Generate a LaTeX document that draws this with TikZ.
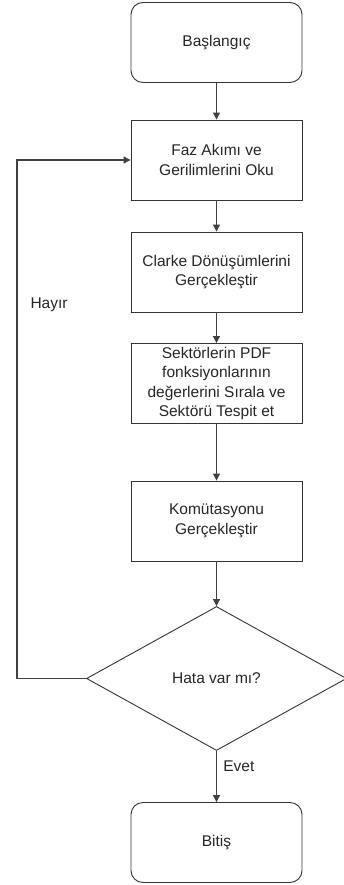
\documentclass[tikz,border=0pt]{standalone}
\usepackage{fontspec}
\setmainfont{Liberation Sans}
\usetikzlibrary{arrows.meta,shapes.geometric}
\begin{document}
\begin{tikzpicture}[x=1pt,y=-1pt,
  box/.style={draw=black!80,line width=0.9pt,minimum width=171pt,minimum height=80pt,inner sep=1pt,align=center,font=\fontsize{15.5}{19.5}\selectfont,text=black!85},
  term/.style={box,rounded corners=12pt},
  dec/.style={draw=black!80,line width=0.9pt,diamond,aspect=1.8,minimum width=260pt,minimum height=144pt,inner sep=0pt,font=\fontsize{15.5}{19}\selectfont,text=black!85},
  arr/.style={draw=black!75,line width=1.1pt,-{Triangle[length=7pt,width=7pt]}},
  lbl/.style={font=\fontsize{15.5}{18}\selectfont,text=black!85}]
\useasboundingbox (0,0) rectangle (343,885);
\fill[white] (0,0) rectangle (343,885);
\node[term] (s) at (216.5,42.5) {Başlangıç};
\node[box] (a) at (216.5,160) {Faz Akımı ve\\Gerilimlerini Oku};
\node[box] (b) at (216.5,272) {Clarke Dönüşümlerini\\Gerçekleştir};
\node[box] (c) at (216.5,383.5) {Sektörlerin PDF\\fonksiyonlarının\\değerlerini Sırala ve\\Sektörü Tespit et};
\node[box] (d) at (216.5,521) {Komütasyonu\\Gerçekleştir};
\node[dec] (h) at (216.5,678.5) {Hata var mı?};
\node[term] (e) at (216.5,842.5) {Bitiş};
\coordinate (l1) at (17,678.5);
\coordinate (l2) at (17,160);
\draw[arr] (s) -- (a);
\draw[arr] (a) -- (b);
\draw[arr] (b) -- (c);
\draw[arr] (c) -- (d);
\draw[arr] (d) -- (h);
\draw[arr] (h) -- node[lbl,right=3pt,pos=0.3] {Evet} (e);
\draw[arr] (h.west) -- (l1) -- (l2) -- (a.west);
\node[lbl,anchor=west] (hl) at (27,305) {Hayır};
\end{tikzpicture}
\end{document}
